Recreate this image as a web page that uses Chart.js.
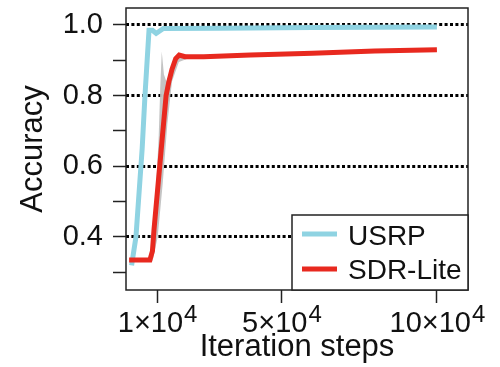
<!DOCTYPE html>
<html>
<head>
<meta charset="utf-8">
<script src="https://cdn.jsdelivr.net/npm/chart.js@4/dist/chart.umd.min.js"></script>
<style>
  html, body { margin: 0; padding: 0; background: #fff; }
  #wrap { width: 500px; height: 367px; }
</style>
</head>
<body>
<div id="wrap"><canvas id="accChart" width="500" height="367"></canvas></div>
<script>
// --- DATA ---
const usrpSteps = [1800, 3200, 5200, 6100, 7400, 8500, 9700, 12000, 30000, 60000, 100000];
const usrpAcc   = [0.32, 0.40, 0.65, 0.80, 0.985, 0.985, 0.976, 0.99, 0.991, 0.993, 0.994];

const sdrSteps = [1000, 7700, 8500, 9000, 11300, 12900, 13800, 14800, 16000, 17100, 19000, 25000, 40000, 60000, 80000, 100000];
const sdrAcc   = [0.335, 0.335, 0.36, 0.42, 0.645, 0.80, 0.84, 0.875, 0.905, 0.915, 0.91, 0.91, 0.915, 0.92, 0.926, 0.93];

// grey spread around SDR-Lite
const bandUpperSteps = [8000, 9300, 10500, 11000, 11500, 12200, 13000, 14200, 16000, 18000, 22000];
const bandUpperAcc   = [0.35, 0.48, 0.68, 0.82, 0.925, 0.86, 0.84, 0.87, 0.905, 0.918, 0.913];
const bandLowerSteps = [8500, 10200, 11800, 13300, 14800, 17000, 20000];
const bandLowerAcc   = [0.33, 0.40, 0.55, 0.72, 0.84, 0.895, 0.905];

const yTicks = [0.3, 0.4, 0.5, 0.6, 0.7, 0.8, 0.9, 1.0];
const yLabeled = [0.4, 0.6, 0.8, 1.0];
const xTicks = [10000, 50000, 100000];
const xTickMantissa = ['1', '5', '10'];
const xTickExponent = '4';

const legendNames = ['USRP', 'SDR-Lite'];
const BLUE = '#8fd3e2';
const RED = '#e8291f';
const FONT = '"Liberation Sans", Arial, sans-serif';

function toPoints(xs, ys) {
  return xs.map((x, i) => ({ x: x, y: ys[i] }));
}

function isLabeled(v) {
  return yLabeled.some(m => Math.abs(m - v) < 1e-6);
}

// --- box, x tick labels with superscript, legend ---
const decorPlugin = {
  id: 'decor',
  afterDraw(chart) {
    const ctx = chart.ctx;
    const a = chart.chartArea;
    ctx.save();

    // frame
    ctx.strokeStyle = '#222';
    ctx.lineWidth = 1.5;
    ctx.strokeRect(a.left, a.top, a.right - a.left, a.bottom - a.top);

    // x tick labels: m×10^4
    const xs = chart.scales.x;
    ctx.fillStyle = '#111';
    ctx.textBaseline = 'alphabetic';
    ctx.textAlign = 'left';
    xTicks.forEach((v, i) => {
      const base = xTickMantissa[i] + '\u00d710';
      ctx.font = '29px ' + FONT;
      const wb = ctx.measureText(base).width;
      ctx.font = '24px ' + FONT;
      const ws = ctx.measureText(xTickExponent).width;
      const px = xs.getPixelForValue(v);
      const x0 = px - (wb + ws) / 2;
      ctx.font = '29px ' + FONT;
      ctx.fillText(base, x0, 332);
      ctx.font = '24px ' + FONT;
      ctx.fillText(xTickExponent, x0 + wb + 1, 322);
    });

    // legend
    const lx = 292, ly = 215, lw = a.right - 292, lh = a.bottom - 215;
    ctx.fillStyle = '#fff';
    ctx.fillRect(lx, ly, lw, lh);
    ctx.strokeStyle = '#222';
    ctx.lineWidth = 1.5;
    ctx.strokeRect(lx, ly, lw, lh);
    const rows = [
      { color: BLUE, y: 234, base: 245 },
      { color: RED, y: 269, base: 279 }
    ];
    rows.forEach((r, i) => {
      ctx.strokeStyle = r.color;
      ctx.lineWidth = 5;
      ctx.beginPath();
      ctx.moveTo(302, r.y);
      ctx.lineTo(337, r.y);
      ctx.stroke();
      ctx.fillStyle = '#111';
      ctx.font = '28px ' + FONT;
      ctx.textAlign = 'left';
      ctx.fillText(legendNames[i], 348, r.base);
    });

    ctx.restore();
  }
};

new Chart(document.getElementById('accChart'), {
  type: 'line',
  data: {
    datasets: [
      {
        label: 'SDR-Lite',
        data: toPoints(sdrSteps, sdrAcc),
        borderColor: RED,
        borderWidth: 5,
        pointRadius: 0,
        tension: 0,
        fill: false,
        order: 0
      },
      {
        label: 'USRP',
        data: toPoints(usrpSteps, usrpAcc),
        borderColor: BLUE,
        borderWidth: 5,
        pointRadius: 0,
        tension: 0,
        fill: false,
        order: 1
      },
      {
        label: 'band-upper',
        data: toPoints(bandUpperSteps, bandUpperAcc),
        borderWidth: 0,
        borderColor: 'rgba(0,0,0,0)',
        backgroundColor: 'rgba(190,190,190,0.9)',
        pointRadius: 0,
        tension: 0,
        fill: 3,
        order: 2
      },
      {
        label: 'band-lower',
        data: toPoints(bandLowerSteps, bandLowerAcc),
        borderWidth: 0,
        borderColor: 'rgba(0,0,0,0)',
        pointRadius: 0,
        tension: 0,
        fill: false,
        order: 3
      }
    ]
  },
  options: {
    responsive: false,
    animation: false,
    events: [],
    layout: { padding: { top: 8, right: 32, left: 0, bottom: 0 } },
    plugins: {
      legend: { display: false },
      tooltip: { enabled: false }
    },
    scales: {
      x: {
        type: 'linear',
        min: 0,
        max: 110000,
        afterBuildTicks: s => { s.ticks = xTicks.map(v => ({ value: v })); },
        afterFit: s => { s.height = 77; s.paddingLeft = 0; s.paddingRight = 0; },
        ticks: { callback: () => '', font: { size: 1 } },
        grid: {
          drawOnChartArea: false,
          tickLength: 13,
          tickColor: '#222',
          tickWidth: 1.5
        },
        border: { display: false },
        title: {
          display: true,
          text: 'Iteration steps',
          color: '#111',
          font: { family: FONT, size: 31 },
          padding: { top: 0, bottom: 0.5 }
        }
      },
      y: {
        min: 0.25,
        max: 1.048,
        afterBuildTicks: s => { s.ticks = yTicks.map(v => ({ value: v })); },
        afterFit: s => { s.width = 126; s.paddingTop = 0; s.paddingBottom = 0; },
        ticks: {
          padding: 10,
          color: '#111',
          font: { family: FONT, size: 29 },
          callback: v => isLabeled(v) ? v.toFixed(1) : ''
        },
        grid: {
          color: c => (c.tick && isLabeled(c.tick.value)) ? '#000' : 'rgba(0,0,0,0)',
          lineWidth: 3,
          tickBorderDash: [],
          tickLength: 13,
          tickColor: '#222',
          tickWidth: 1.5
        },
        border: { display: false, dash: [3, 2.4] },
        title: {
          display: true,
          text: 'Accuracy',
          color: '#111',
          font: { family: FONT, size: 31 },
          padding: { top: 15, bottom: 0 }
        }
      }
    }
  },
  plugins: [decorPlugin]
});
</script>
</body>
</html>
